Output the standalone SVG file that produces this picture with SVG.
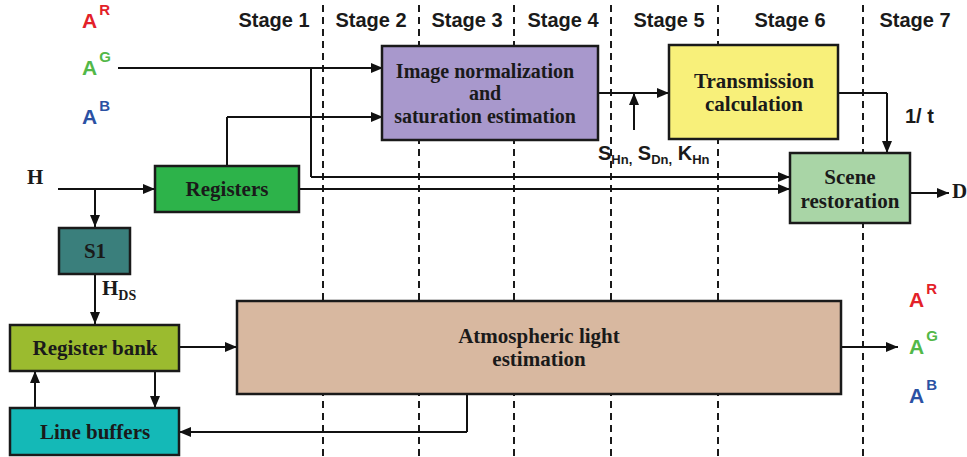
<svg xmlns="http://www.w3.org/2000/svg" width="967" height="457" viewBox="0 0 967 457">
<defs>
<marker id="ah" viewBox="0 0 12 10" refX="12" refY="5" markerWidth="12" markerHeight="10" markerUnits="userSpaceOnUse" orient="auto">
<path d="M0,0 L12,5 L0,10 Z" fill="#111"/>
</marker>
<style>
.box{stroke:#1a1a1a;stroke-width:2.5}
.bt{font-family:"Liberation Serif","Times New Roman",serif;font-weight:bold;font-size:21px;fill:#1a1a1a;text-anchor:middle}
.bt2{font-size:20px}
.st{font-family:"Liberation Sans",Arial,sans-serif;font-weight:bold;font-size:20px;fill:#1a1a1a;text-anchor:middle}
.lb{font-family:"Liberation Sans",Arial,sans-serif;font-weight:bold;font-size:20px;fill:#1a1a1a}
.al{font-size:21px}
.sv{font-family:"Liberation Serif","Times New Roman",serif;font-weight:bold;font-size:21px;fill:#1a1a1a}
.dash{stroke:#1a1a1a;stroke-width:2;stroke-dasharray:7,5;fill:none}
.ln{stroke:#111;stroke-width:2;fill:none}
.arr{stroke:#111;stroke-width:2;fill:none;marker-end:url(#ah)}
.r{fill:#e32129}.g{fill:#52b848}.b{fill:#2b51a3}
</style>
</defs>
<rect width="967" height="457" fill="#fff"/>
<g id="stage-lines">
<line class="dash" x1="323" y1="5" x2="323" y2="457"/>
<line class="dash" x1="419" y1="5" x2="419" y2="457"/>
<line class="dash" x1="514" y1="5" x2="514" y2="457"/>
<line class="dash" x1="611" y1="5" x2="611" y2="457"/>
<line class="dash" x1="718" y1="5" x2="718" y2="457"/>
<line class="dash" x1="863" y1="5" x2="863" y2="457"/>
</g>
<g id="stage-labels">
<text class="st" x="274" y="27">Stage 1</text>
<text class="st" x="371" y="27">Stage 2</text>
<text class="st" x="467" y="27">Stage 3</text>
<text class="st" x="563" y="27">Stage 4</text>
<text class="st" x="669" y="27">Stage 5</text>
<text class="st" x="790" y="27">Stage 6</text>
<text class="st" x="915" y="27">Stage 7</text>
</g>
<g id="connectors">
<path class="arr" d="M118,68 H383"/>
<path class="ln" d="M311,68 V177"/>
<path class="arr" d="M311,177 H790"/>
<path class="ln" d="M227,166 V117"/>
<path class="arr" d="M227,117 H383"/>
<path class="arr" d="M58,189 H155"/>
<path class="arr" d="M95,189 V227"/>
<path class="arr" d="M299,189 H790"/>
<path class="arr" d="M95,274 V324"/>
<path class="arr" d="M179,347 H237"/>
<path class="arr" d="M838,347 H898"/>
<path class="ln" d="M467,394 V432"/>
<path class="arr" d="M467,432 H179"/>
<path class="arr" d="M35,408 V371"/>
<path class="arr" d="M155,371 V408"/>
<path class="arr" d="M598,93 H669"/>
<path class="arr" d="M634,130 V93"/>
<path class="ln" d="M838,93 H887"/>
<path class="arr" d="M887,93 V153"/>
<path class="arr" d="M910,193 H949"/>
</g>
<g id="registers">
<rect class="box" x="155" y="166" width="144" height="46" fill="#2db34a"/>
<text class="bt" x="227" y="196">Registers</text>
</g>
<g id="s1">
<rect class="box" x="59" y="228" width="71" height="46" fill="#3a7f7c"/>
<text class="bt" x="95" y="258">S1</text>
</g>
<g id="register-bank">
<rect class="box" x="10" y="325" width="169" height="46" fill="#9bbb2f"/>
<text class="bt" x="95" y="355">Register bank</text>
</g>
<g id="line-buffers">
<rect class="box" x="10" y="408" width="169" height="47" fill="#14b9b7"/>
<text class="bt" x="95" y="439">Line buffers</text>
</g>
<g id="atmospheric-light">
<rect class="box" x="237" y="301" width="604" height="93" fill="#d8b8a0"/>
<text class="bt" x="539" y="343">Atmospheric light</text>
<text class="bt" x="539" y="366">estimation</text>
</g>
<g id="image-normalization">
<rect class="box" x="382" y="46" width="216" height="94" fill="#a898cc"/>
<text class="bt bt2" x="485" y="78">Image normalization</text>
<text class="bt bt2" x="485" y="100">and</text>
<text class="bt bt2" x="485" y="123">saturation estimation</text>
</g>
<g id="transmission">
<rect class="box" x="669" y="45" width="169" height="94" fill="#f8f07a"/>
<text class="bt" x="754" y="88">Transmission</text>
<text class="bt" x="754" y="111">calculation</text>
</g>
<g id="scene-restoration">
<rect class="box" x="790" y="153" width="120" height="70" fill="#a9d5a6"/>
<text class="bt" x="850" y="184">Scene</text>
<text class="bt" x="850" y="208">restoration</text>
</g>
<g id="labels">
<text class="lb al r" x="82" y="28">A<tspan font-size="15" dx="2" dy="-13">R</tspan></text>
<text class="lb al g" x="82" y="75">A<tspan font-size="15" dx="2" dy="-13">G</tspan></text>
<text class="lb al b" x="82" y="124">A<tspan font-size="15" dx="2" dy="-13">B</tspan></text>
<text class="lb al r" x="909" y="307">A<tspan font-size="15" dx="2" dy="-13">R</tspan></text>
<text class="lb al g" x="909" y="354">A<tspan font-size="15" dx="2" dy="-13">G</tspan></text>
<text class="lb al b" x="909" y="403">A<tspan font-size="15" dx="2" dy="-13">B</tspan></text>
<text class="sv" x="27" y="184">H</text>
<text class="sv" x="102" y="295">H<tspan font-size="14" dy="5">DS</tspan></text>
<text class="sv" x="952" y="198">D</text>
<text class="lb" x="905" y="123">1/ t</text>
<text class="lb" x="598" y="160">S<tspan font-size="13" dy="4">Hn,</tspan><tspan dy="-4"> S</tspan><tspan font-size="13" dy="4">Dn,</tspan><tspan dy="-4"> K</tspan><tspan font-size="13" dy="4">Hn</tspan></text>
</g>
</svg>
